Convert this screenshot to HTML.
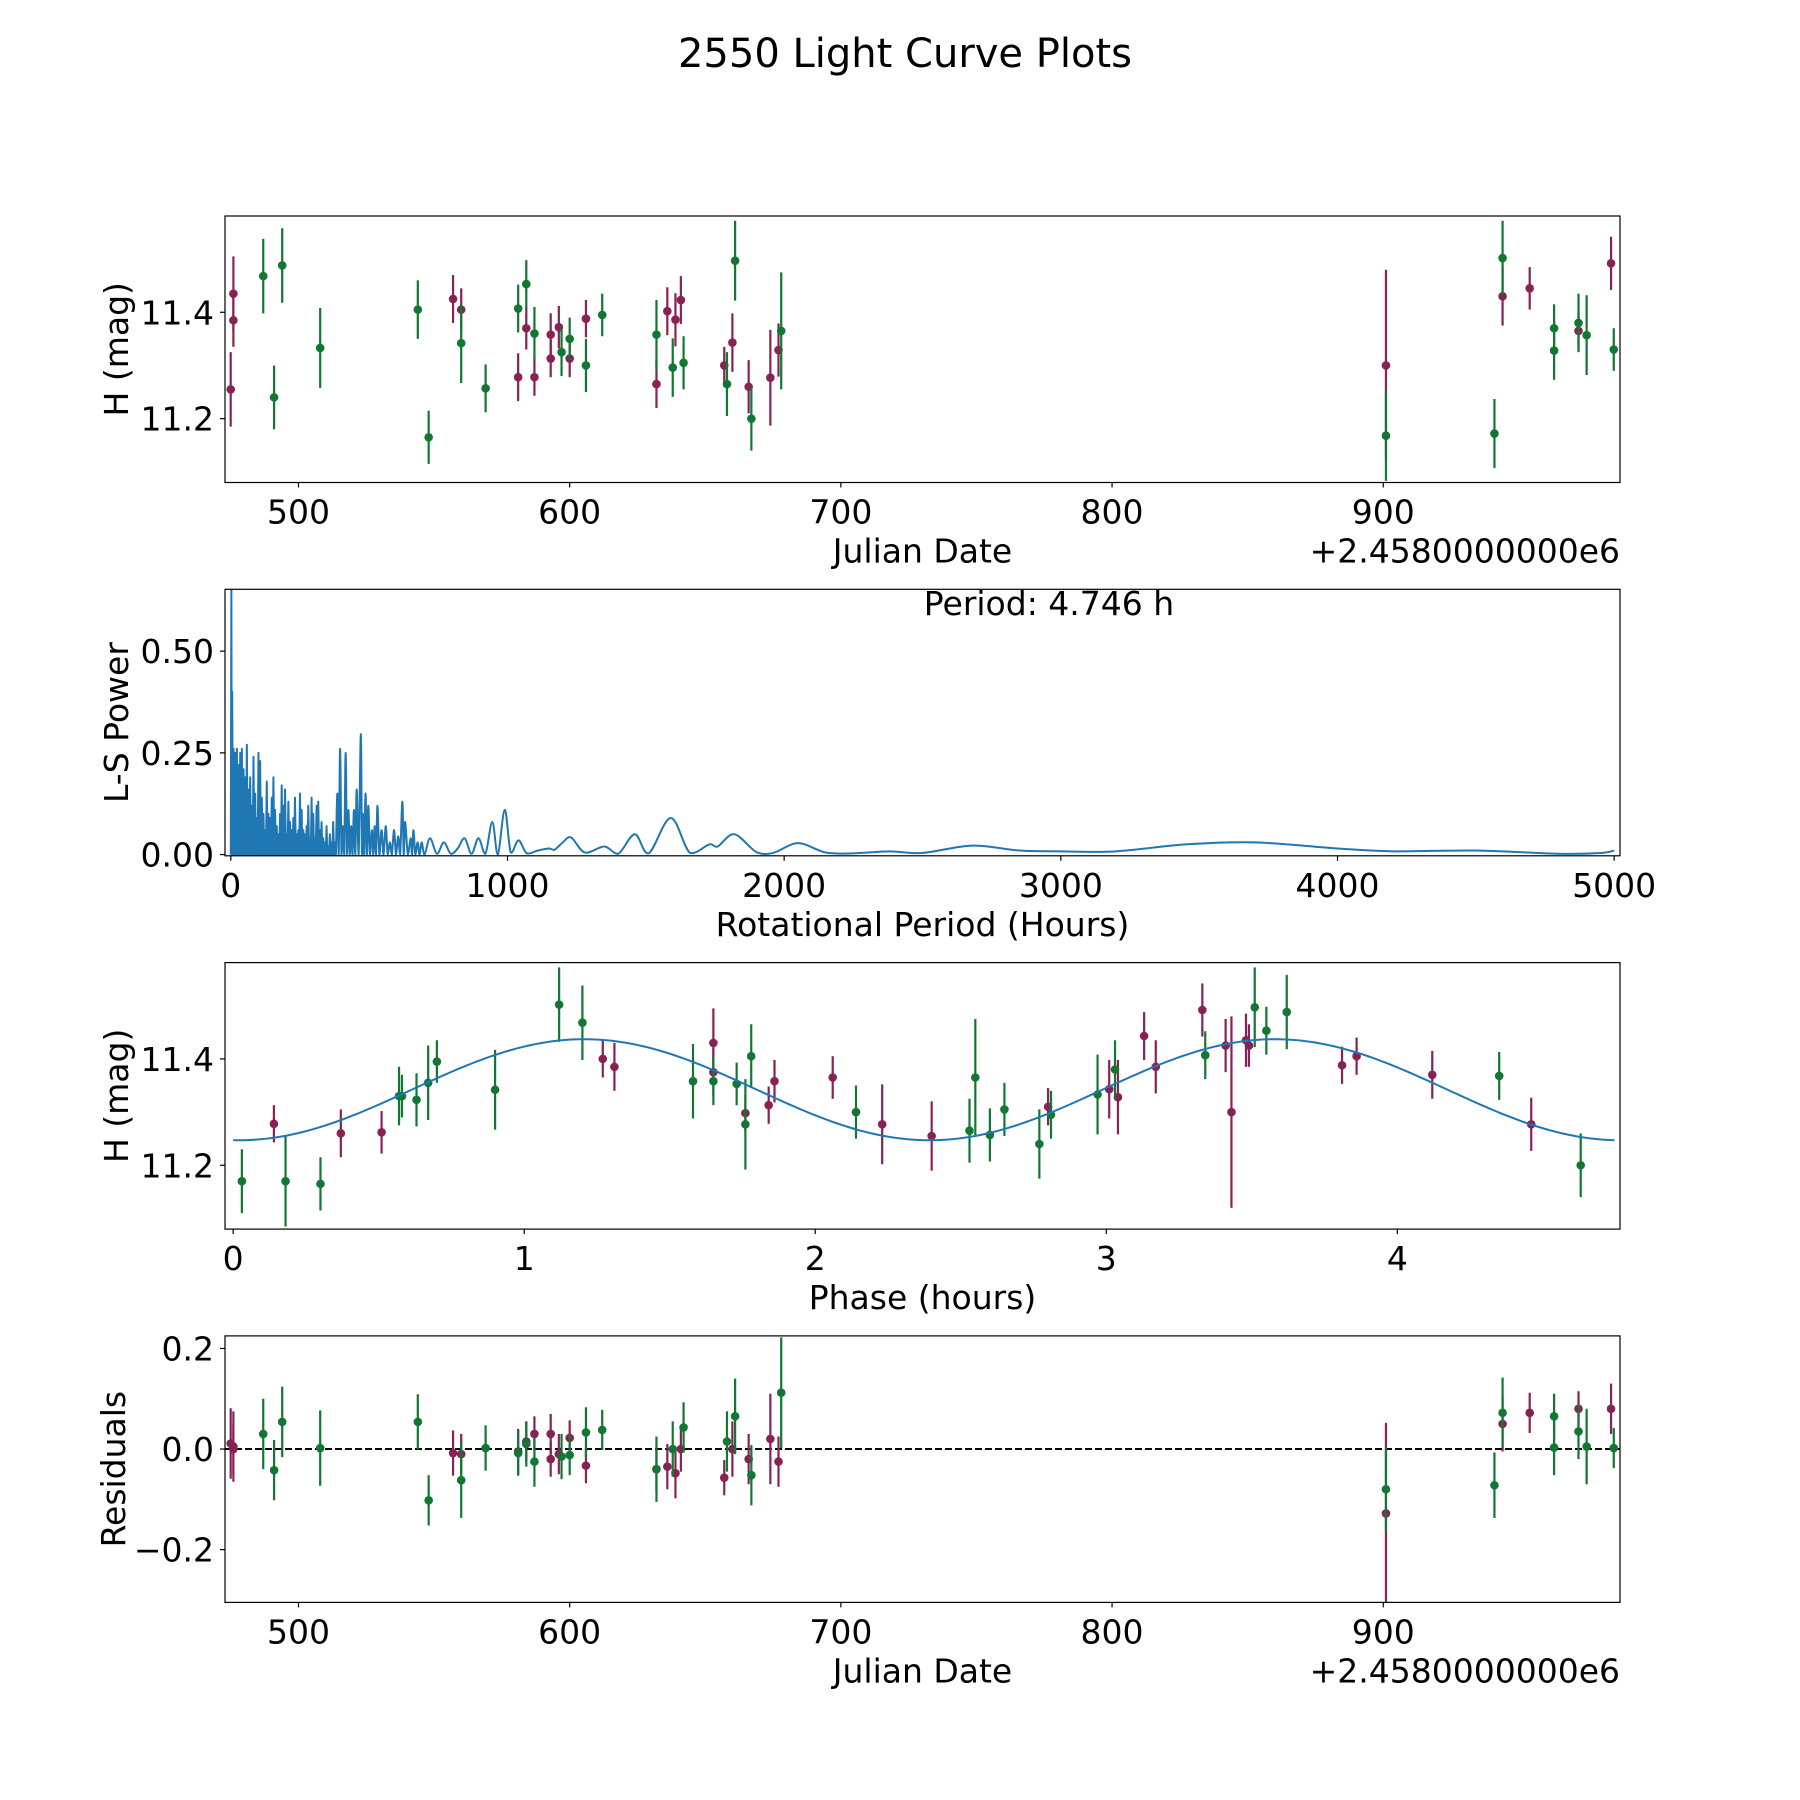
<!DOCTYPE html>
<html><head><meta charset="utf-8"><style>
html,body{margin:0;padding:0;background:#fff}
svg{display:block}
text{font-family:"DejaVu Sans","Liberation Sans",sans-serif;fill:#000}
</style></head><body>
<svg id="fig" width="1800" height="1800" viewBox="0 0 1800 1800" xmlns="http://www.w3.org/2000/svg">
<text x="905" y="67" font-size="40" text-anchor="middle">2550 Light Curve Plots</text>
</svg>
<script>
// ---- Light curve data (JD offset from 2458000) ----
const wineDates=[475,476,476,557,560,581,584,587,593,593,596,600,606,632,636,639,641,657,660,666,674,677,901,944,954,972,984];
const wineMags=[11.255,11.435,11.385,11.425,11.405,11.278,11.37,11.278,11.358,11.313,11.372,11.313,11.388,11.265,11.402,11.386,11.423,11.300,11.343,11.26,11.277,11.329,11.30,11.43,11.445,11.365,11.492];
const wineErrs=[0.07,0.07,0.05,0.045,0.04,0.045,0.04,0.035,0.04,0.035,0.04,0.035,0.035,0.045,0.045,0.05,0.045,0.035,0.055,0.05,0.09,0.05,0.18,0.055,0.04,0.035,0.05];
const wineResid=[0.011,0.005,0.0,-0.008,-0.01,-0.005,0.015,0.03,0.03,-0.02,-0.01,0.022,-0.033,-0.04,-0.035,-0.048,0.0,-0.057,0.0,-0.02,0.02,-0.025,-0.128,0.05,0.072,0.08,0.08];
const greenDates=[487,491,494,508,544,548,560,569,581,584,587,597,600,606,612,632,638,642,658,661,667,678,901,941,944,963,963,972,975,985];
const greenMags=[11.468,11.24,11.488,11.333,11.405,11.165,11.342,11.257,11.407,11.453,11.36,11.325,11.35,11.30,11.395,11.358,11.296,11.305,11.265,11.497,11.2,11.365,11.168,11.172,11.502,11.37,11.328,11.38,11.357,11.33];
const greenErrs=[0.07,0.06,0.07,0.075,0.055,0.05,0.075,0.045,0.045,0.045,0.05,0.045,0.04,0.05,0.04,0.065,0.055,0.05,0.06,0.075,0.06,0.11,0.085,0.065,0.07,0.045,0.055,0.055,0.075,0.04];
const greenResid=[0.03,-0.042,0.054,0.002,0.054,-0.102,-0.062,0.002,-0.008,0.01,-0.025,-0.015,-0.012,0.033,0.038,-0.04,0.0,0.043,0.015,0.065,-0.052,0.112,-0.08,-0.072,0.072,0.065,0.003,0.035,0.005,0.002];
// ---- Phase-folded data ----
const greenPhase=[0.03,0.18,0.30,0.57,0.58,0.63,0.67,0.70,0.90,1.12,1.20,1.58,1.65,1.73,1.76,1.78,2.14,2.53,2.55,2.60,2.65,2.77,2.81,2.97,3.03,3.34,3.51,3.55,3.62,4.35,4.63];
const greenPhaseMag=[11.17,11.17,11.165,11.33,11.33,11.323,11.355,11.395,11.342,11.502,11.468,11.358,11.358,11.353,11.277,11.405,11.30,11.265,11.365,11.257,11.305,11.24,11.295,11.333,11.38,11.407,11.497,11.453,11.488,11.368,11.2];
const greenPhaseErr=[0.06,0.085,0.05,0.055,0.04,0.05,0.07,0.04,0.075,0.07,0.07,0.07,0.045,0.04,0.085,0.06,0.05,0.06,0.11,0.05,0.05,0.065,0.045,0.075,0.055,0.045,0.075,0.045,0.07,0.045,0.06];
const winePhase=[0.14,0.37,0.51,1.27,1.31,1.65,1.65,1.76,1.84,1.86,2.06,2.23,2.40,2.80,3.01,3.04,3.13,3.17,3.33,3.41,3.43,3.48,3.49,3.81,3.86,4.12,4.46];
const winePhaseMag=[11.278,11.26,11.262,11.40,11.385,11.43,11.375,11.298,11.313,11.358,11.365,11.277,11.255,11.31,11.343,11.328,11.443,11.385,11.492,11.425,11.30,11.435,11.425,11.388,11.405,11.37,11.277];
const winePhaseErr=[0.035,0.045,0.04,0.035,0.045,0.065,0.045,0.035,0.035,0.04,0.04,0.075,0.065,0.035,0.055,0.07,0.045,0.05,0.05,0.05,0.18,0.05,0.04,0.035,0.035,0.045,0.05];
// ---- sinusoid model fit (mean, amplitude, half-period, phase offset) ----
const modelParams=[11.342,0.095,2.373,0.02];
const modelRange=[0,4.746];
// ---- Lomb-Scargle periodogram (hours, power) ----
const lsDenseHours=[2,5,10,16,22,28,34,40,46,52,58,64,70,76,82,88,94,100,106,112,118,124,130,136,142,148,154,160,166,172,178,184,190,196,202,208,214,220,226,232,238,244,250,256,262,268,274,280,286,292,298,304,310,316,322,328,334,340,346,352,358,364,370,376];
const lsDensePower=[0.66,0.40,0.26,0.25,0.26,0.22,0.25,0.26,0.21,0.19,0.27,0.16,0.19,0.12,0.24,0.15,0.09,0.25,0.23,0.14,0.10,0.06,0.18,0.10,0.09,0.14,0.19,0.11,0.07,0.05,0.10,0.17,0.12,0.16,0.05,0.13,0.08,0.06,0.09,0.14,0.05,0.06,0.15,0.11,0.06,0.05,0.07,0.12,0.04,0.14,0.10,0.04,0.12,0.13,0.06,0.08,0.04,0.03,0.07,0.02,0.05,0.03,0.08,0.03];
const lsHours=[380,385,390,395,400,405,410,415,420,425,430,435,440,445,450,455,462,470,474,478,482,487,492,497,503,510,515,520,525,530,537,545,552,560,567,575,582,590,597,605,612,620,625,630,640,650,655,660,667,675,682,690,700,720,745,770,795,820,845,870,895,920,945,965,990,1012,1040,1070,1110,1150,1170,1200,1230,1280,1350,1400,1460,1510,1590,1660,1730,1760,1820,1900,1960,2050,2150,2250,2380,2500,2680,2850,3000,3200,3450,3700,4000,4200,4500,4800,4950,5000];
const lsPower=[0.0,0.15,0.0,0.26,0.0,0.07,0.0,0.25,0.0,0.11,0.0,0.07,0.0,0.11,0.0,0.16,0.0,0.296,0.0,0.10,0.0,0.15,0.0,0.12,0.0,0.06,0.0,0.07,0.0,0.12,0.0,0.06,0.0,0.07,0.0,0.03,0.0,0.06,0.0,0.045,0.0,0.13,0.0,0.08,0.0,0.04,0.0,0.06,0.0,0.03,0.0,0.03,0.0,0.04,0.002,0.03,0.002,0.015,0.04,0.002,0.04,0.002,0.08,0.0,0.11,0.005,0.035,0.003,0.01,0.015,0.012,0.03,0.042,0.005,0.02,0.002,0.05,0.003,0.09,0.004,0.025,0.02,0.05,0.006,0.004,0.028,0.005,0.003,0.008,0.004,0.022,0.01,0.008,0.008,0.025,0.03,0.015,0.008,0.01,0.002,0.004,0.01];
// ---- ticks ----
const jdTicks=[500,600,700,800,900];
const magTicks=[11.2,11.4];
const lsXTicks=[0,1000,2000,3000,4000,5000];
const lsYTicks=[0,0.25,0.5];
const lsYTickLabels=["0.00","0.25","0.50"];
const phaseTicks=[0,1,2,3,4];
const residTicks=[-0.2,0,0.2];
const residTickLabels=["\u22120.2","0.0","0.2"];

const NS="http://www.w3.org/2000/svg";
const svg=document.getElementById('fig');
const GREEN="#117733", WINE="#882255", BLUE="#1f77b4";
const FS=33;
const L=225,R=1620,H=266.5,tops=[216,589.3,962.6,1335.9];
function mk(tag,attrs,parent){const e=document.createElementNS(NS,tag);for(const k in attrs)e.setAttribute(k,attrs[k]);(parent||svg).appendChild(e);return e;}
function scale(d0,d1,r0,r1){return v=>r0+(v-d0)*(r1-r0)/(d1-d0);}

function axesFrame(top,name){
  const g=mk('g',{});
  
  
  const c=mk('clipPath',{id:'clip-'+name},g);
  mk('rect',{x:L,y:top,width:R-L,height:H},c);
  const plot=mk('g',{'clip-path':'url(#clip-'+name+')'},g);
  
  
  return {g,plot,top};
}
function border(ax){
  const b=mk('rect',{x:L,y:ax.top,width:R-L,height:H,fill:'none',stroke:'#000','stroke-width':1.2},ax.g);
  
  
}
function xTicks(ax,ticks,labels,sx){
  const bot=ax.top+H;
  ticks.forEach((t,i)=>{
    const x=sx(t);
    const tk=mk('line',{x1:x,x2:x,y1:bot,y2:bot+5,stroke:'#000','stroke-width':1.2},ax.g);
    
    
    const tl=mk('text',{x:x,y:bot+41,'font-size':FS,'text-anchor':'middle'},ax.g);
    tl.textContent=labels[i];
    
    
  });
}
function yTicks(ax,ticks,labels,sy){
  ticks.forEach((t,i)=>{
    const y=sy(t);
    const tk=mk('line',{x1:L-5,x2:L,y1:y,y2:y,stroke:'#000','stroke-width':1.2},ax.g);
    
    
    const tl=mk('text',{x:L-11,y:y+12,'font-size':FS,'text-anchor':'end'},ax.g);
    tl.textContent=labels[i];
    
    
  });
}
function xLabel(ax,txt){
  const t=mk('text',{x:(L+R)/2,y:ax.top+H+80,'font-size':FS,'text-anchor':'middle'},ax.g);
  t.textContent=txt;
  
  
}
function yLabel(ax,txt,x){
  const cy=ax.top+H/2;
  const t=mk('text',{x:x,y:cy,'font-size':FS,'text-anchor':'middle',transform:'rotate(-90 '+x+' '+cy+')'},ax.g);
  t.textContent=txt;
  
  
}
function offsetText(ax){
  const t=mk('text',{x:R,y:ax.top+H+80,'font-size':FS,'text-anchor':'end'},ax.g);
  t.textContent='+2.4580000000e6';
  
  
}
function errPoints(ax,xs,ys,es,color,sx,sy,name){
  const g=mk('g',{},ax.plot);
  
  
  xs.forEach((xv,i)=>{
    const x=sx(xv);
    const ln=mk('line',{x1:x,x2:x,y1:sy(ys[i]-es[i]),y2:sy(ys[i]+es[i]),stroke:color,'stroke-width':2.2},g);
    
    
  });
  xs.forEach((xv,i)=>{
    const c=mk('circle',{cx:sx(xv),cy:sy(ys[i]),r:4.3,fill:color},g);
    
    
  });
}

// ---- Panel 1: light curve ----
const jdX=scale(472.9,987.3,L,R);
const magY1=scale(11.08,11.581,tops[0]+H,tops[0]);
const ax1=axesFrame(tops[0],'light-curve-axes');
errPoints(ax1,wineDates,wineMags,wineErrs,WINE,jdX,magY1,'wine-series');
errPoints(ax1,greenDates,greenMags,greenErrs,GREEN,jdX,magY1,'green-series');
border(ax1);
xTicks(ax1,jdTicks,jdTicks.map(String),jdX);
yTicks(ax1,magTicks,magTicks.map(v=>v.toFixed(1)),magY1);
xLabel(ax1,'Julian Date');offsetText(ax1);yLabel(ax1,'H (mag)',128);

// ---- Panel 2: periodogram ----
const lsX=scale(-21,5021,L,R);
const lsY=scale(-0.003,0.652,tops[1]+H,tops[1]);
const ax2=axesFrame(tops[1],'periodogram-axes');
let d='M'+lsX(0)+','+lsY(0);
lsDenseHours.forEach((h,i)=>{
  const nx=i+1<lsDenseHours.length?lsDenseHours[i+1]:lsHours[0];
  d+=' L'+lsX(h)+','+lsY(lsDensePower[i])+' L'+lsX((h+nx)/2)+','+lsY(0);
});
const px=lsHours.map(lsX), py=lsPower.map(lsY);
d+=' L'+px[0]+','+py[0];
for(let i=0;i<px.length-1;i++){
  const p0=i>0?i-1:i, p3=i+2<px.length?i+2:i+1;
  const c1x=px[i]+(px[i+1]-px[p0])/6, c1y=Math.min(py[i]+(py[i+1]-py[p0])/6,lsY(0));
  const c2x=px[i+1]-(px[p3]-px[i])/6, c2y=Math.min(py[i+1]-(py[p3]-py[i])/6,lsY(0));
  d+=' C'+c1x+','+c1y+' '+c2x+','+c2y+' '+px[i+1]+','+py[i+1];
}
const lsLine=mk('path',{d:d,fill:'none',stroke:BLUE,'stroke-width':2,'stroke-linejoin':'round'},ax2.plot);


border(ax2);
xTicks(ax2,lsXTicks,lsXTicks.map(String),lsX);
yTicks(ax2,lsYTicks,lsYTickLabels,lsY);
xLabel(ax2,'Rotational Period (Hours)');yLabel(ax2,'L-S Power',128);
const pt=mk('text',{x:1049,y:615,'font-size':FS,'text-anchor':'middle'},ax2.g);
pt.textContent='Period: 4.746 h';



// ---- Panel 3: phase folded ----
const phX=scale(-0.028,4.765,L,R);
const magY3=scale(11.08,11.581,tops[2]+H,tops[2]);
const ax3=axesFrame(tops[2],'phase-axes');
errPoints(ax3,winePhase,winePhaseMag,winePhaseErr,WINE,phX,magY3,'wine-phase-series');
errPoints(ax3,greenPhase,greenPhaseMag,greenPhaseErr,GREEN,phX,magY3,'green-phase-series');
let md='';
for(let k=0;k<=300;k++){
  const p=modelRange[0]+(modelRange[1]-modelRange[0])*k/300;
  const m=modelParams[0]-modelParams[1]*Math.cos(2*Math.PI*(p-modelParams[3])/modelParams[2]);
  md+=(k?' L':'M')+phX(p)+','+magY3(m);
}
const ml=mk('path',{d:md,fill:'none',stroke:BLUE,'stroke-width':2},ax3.plot);


border(ax3);
xTicks(ax3,phaseTicks,phaseTicks.map(String),phX);
yTicks(ax3,magTicks,magTicks.map(v=>v.toFixed(1)),magY3);
xLabel(ax3,'Phase (hours)');yLabel(ax3,'H (mag)',128);

// ---- Panel 4: residuals ----
const rY=scale(-0.305,0.225,tops[3]+H,tops[3]);
const ax4=axesFrame(tops[3],'residuals-axes');
const zl=mk('line',{x1:L,x2:R,y1:rY(0),y2:rY(0),stroke:'#000','stroke-width':2,'stroke-dasharray':'7,3'},ax4.plot);


errPoints(ax4,wineDates,wineResid,wineErrs,WINE,jdX,rY,'wine-residuals');
errPoints(ax4,greenDates,greenResid,greenErrs,GREEN,jdX,rY,'green-residuals');
border(ax4);
xTicks(ax4,jdTicks,jdTicks.map(String),jdX);
yTicks(ax4,residTicks,residTickLabels,rY);
xLabel(ax4,'Julian Date');offsetText(ax4);yLabel(ax4,'Residuals',125);
</script>
</body></html>
